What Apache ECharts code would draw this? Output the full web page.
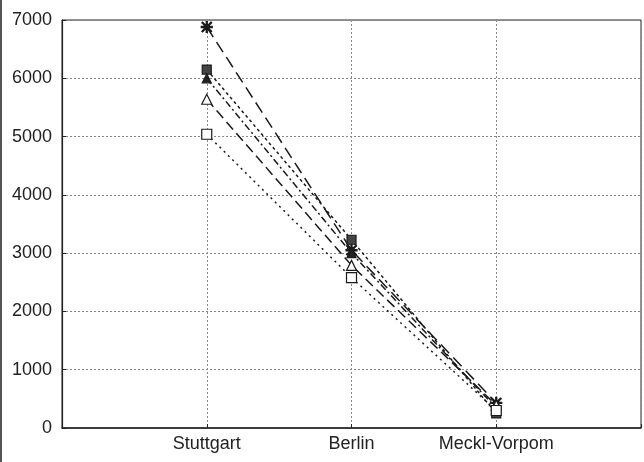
<!DOCTYPE html>
<html>
<head>
<meta charset="utf-8">
<script src="https://cdn.jsdelivr.net/npm/echarts@6/dist/echarts.min.js"></script>
<style>html,body{margin:0;padding:0;background:#fff;}#c{width:644px;height:462px;}</style>
</head>
<body>
<div id="c"></div>
<script>
const categories = ['', 'Stuttgart', 'Berlin', 'Meckl-Vorpom', ''];
const yTicks = [0, 1000, 2000, 3000, 4000, 5000, 6000, 7000];
const sAsterisk = [null, 6880, 3050, 430, null];
const sFilledSquare = [null, 6150, 3230, 250, null];
const sFilledTriangle = [null, 6000, 3000, 340, null];
const sOpenTriangle = [null, 5640, 2790, 390, null];
const sOpenSquare = [null, 5040, 2580, 300, null];

const asteriskPath = 'path://M9,0 L11,0 L11,20 L9,20 Z M0,9 L20,9 L20,11 L0,11 Z M1,2.4 L2.4,1 L19,17.6 L17.6,19 Z M17.6,1 L19,2.4 L2.4,19 L1,17.6 Z';

function mk(name, data, symbol, size, fill, dash) {
  return {
    name, type: 'line', data, symbol, symbolSize: size, connectNulls: false,
    lineStyle: { color: '#1a1a1a', width: 1.5, type: dash },
    itemStyle: { color: fill, borderColor: '#1a1a1a', borderWidth: 1.2 },
    z: 3
  };
}

const chart = echarts.init(document.getElementById('c'), null, { renderer: 'canvas' });
chart.setOption({
  animation: false,
  backgroundColor: '#fff',
  grid: { left: 62, right: 2, top: 20, bottom: 34, show: true, borderColor: '#222', borderWidth: 1 },
  graphic: [{ type: 'line', shape: { x1: 1, y1: 0, x2: 1, y2: 462 }, style: { stroke: '#555', lineWidth: 2 } }],
  xAxis: {
    type: 'category', data: categories, boundaryGap: false,
    axisLine: { lineStyle: { color: '#222', width: 1.5 } },
    axisTick: { show: true, inside: true, length: 4, interval: 0, lineStyle: { color: '#222' } },
    axisLabel: { color: '#222', fontFamily: 'Liberation Sans', fontSize: 18, margin: 7, interval: 0, hideOverlap: false },
    splitLine: { show: true, interval: 0, lineStyle: { color: '#888', type: [2, 2], width: 1 } }
  },
  yAxis: {
    type: 'value', min: 0, max: 7000, interval: 1000,
    axisLine: { show: true, lineStyle: { color: '#222', width: 1.2 } },
    axisTick: { show: true, inside: true, length: 4, lineStyle: { color: '#222' } },
    axisLabel: { color: '#222', fontFamily: 'Liberation Sans', fontSize: 18, margin: 10,
      formatter: v => String(v) },
    splitLine: { show: true, lineStyle: { color: '#888', type: [2, 2], width: 1 } }
  },
  series: [
    mk('A', sAsterisk, asteriskPath, 11, '#222', [12, 6]),
    mk('B', sFilledSquare, 'rect', 9, '#444', [3, 3]),
    mk('C', sFilledTriangle, 'triangle', 9, '#222', [7, 3, 2, 3]),
    mk('D', sOpenTriangle, 'triangle', 10, '#fff', [10, 5]),
    mk('E', sOpenSquare, 'rect', 10, '#fff', [2, 4])
  ]
});
</script>
</body>
</html>
